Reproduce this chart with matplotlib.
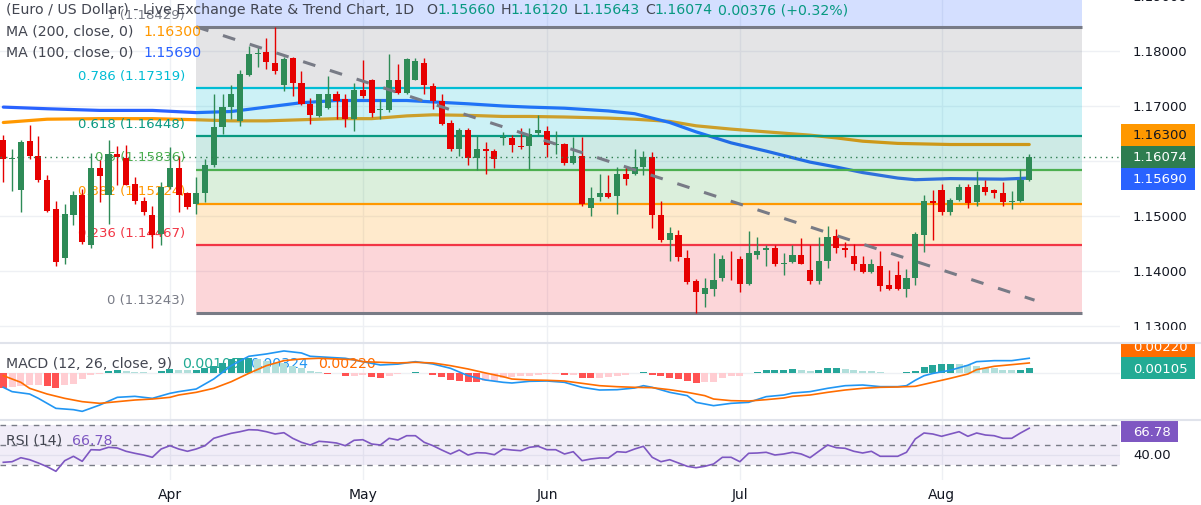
import matplotlib
matplotlib.use("Agg")
import matplotlib.pyplot as plt
from matplotlib.patches import Rectangle

W, H = 1201, 506
plt.rcParams['font.family'] = ['DejaVu Sans']
FS = 9.5
FS_HEAD = 10.2

# daily candles, oldest -> newest
opens = [1.1639, 1.1604, 1.1547, 1.1636, 1.1610, 1.1565, 1.1512, 1.1424, 1.1502, 1.1539,
         1.1448, 1.1588, 1.1538, 1.1612, 1.1605, 1.1559, 1.1527, 1.1501, 1.1468, 1.1553,
         1.1588, 1.1541, 1.1522, 1.1541, 1.1593, 1.1662, 1.1698, 1.1672, 1.1757, 1.1795,
         1.1799, 1.1779, 1.1739, 1.1787, 1.1741, 1.1704, 1.1681, 1.1696, 1.1721, 1.1712,
         1.1677, 1.1730, 1.1748, 1.1692, 1.1692, 1.1748, 1.1724, 1.1748, 1.1779, 1.1736,
         1.1709, 1.1669, 1.1621, 1.1656, 1.1605, 1.1622, 1.1618, 1.1642, 1.1642, 1.1628,
         1.1627, 1.1651, 1.1655, 1.1629, 1.1631, 1.1597, 1.1609, 1.1515, 1.1535, 1.1542,
         1.1536, 1.1577, 1.1576, 1.1589, 1.1607, 1.1501, 1.1456, 1.1466, 1.1424, 1.1382,
         1.1359, 1.1368, 1.1388, 1.1422, 1.1422, 1.1376, 1.1430, 1.1439, 1.1441, 1.1412,
         1.1416, 1.1430, 1.1401, 1.1381, 1.1418, 1.1464, 1.1442, 1.1427, 1.1413, 1.1398,
         1.1409, 1.1375, 1.1393, 1.1367, 1.1388, 1.1465, 1.1527, 1.1548, 1.1508, 1.1530,
         1.1553, 1.1525, 1.1553, 1.1547, 1.1541, 1.1525, 1.1527, 1.15660]
highs = [1.1647, 1.1621, 1.1638, 1.1666, 1.1645, 1.1575, 1.1528, 1.1522, 1.1545, 1.1550,
         1.1615, 1.1601, 1.1638, 1.1628, 1.1630, 1.1571, 1.1535, 1.1519, 1.1562, 1.1625,
         1.1610, 1.1544, 1.1571, 1.1604, 1.1721, 1.1722, 1.1739, 1.1765, 1.1810, 1.1807,
         1.1824, 1.18429, 1.1789, 1.1789, 1.1763, 1.1715, 1.1722, 1.1755, 1.1727, 1.1721,
         1.1741, 1.1784, 1.1750, 1.1713, 1.1795, 1.1777, 1.1787, 1.1787, 1.1787, 1.1741,
         1.1721, 1.1674, 1.1660, 1.1660, 1.1645, 1.1635, 1.1622, 1.1652, 1.1647, 1.1660,
         1.1660, 1.1683, 1.1664, 1.1655, 1.1633, 1.1644, 1.1644, 1.1553, 1.1577, 1.1574,
         1.1589, 1.1589, 1.1622, 1.1619, 1.1616, 1.1528, 1.1480, 1.1474, 1.1439, 1.1385,
         1.1387, 1.1433, 1.1430, 1.1436, 1.1427, 1.1473, 1.1462, 1.1447, 1.1447, 1.1432,
         1.1447, 1.1460, 1.1447, 1.1462, 1.1482, 1.1477, 1.1452, 1.1450, 1.1427, 1.1421,
         1.1436, 1.1401, 1.1418, 1.1404, 1.1471, 1.1538, 1.1548, 1.1559, 1.1533, 1.1559,
         1.1559, 1.1581, 1.1565, 1.1550, 1.1562, 1.1545, 1.1585, 1.16120]
lows = [1.1561, 1.1545, 1.1507, 1.1604, 1.1562, 1.1508, 1.1410, 1.1413, 1.1483, 1.1450,
        1.1442, 1.1525, 1.1486, 1.1556, 1.1556, 1.1522, 1.1501, 1.1442, 1.1448, 1.1550,
        1.1508, 1.1513, 1.1504, 1.1525, 1.1589, 1.1650, 1.1677, 1.1664, 1.1755, 1.1771,
        1.1767, 1.1759, 1.1728, 1.1719, 1.1701, 1.1668, 1.1680, 1.1695, 1.1677, 1.1662,
        1.1654, 1.1715, 1.1680, 1.1677, 1.1690, 1.1721, 1.1722, 1.1747, 1.1721, 1.1695,
        1.1666, 1.1618, 1.1609, 1.1592, 1.1583, 1.1576, 1.1588, 1.1630, 1.1616, 1.1621,
        1.1585, 1.1647, 1.1607, 1.1613, 1.1593, 1.1594, 1.1518, 1.1500, 1.1528, 1.1532,
        1.1504, 1.1557, 1.1575, 1.1575, 1.1478, 1.1452, 1.1418, 1.1419, 1.1376, 1.13243,
        1.1334, 1.1355, 1.1382, 1.1383, 1.1362, 1.1374, 1.1421, 1.1409, 1.1409, 1.1392,
        1.1415, 1.1412, 1.1377, 1.1377, 1.1405, 1.1432, 1.1425, 1.1401, 1.1397, 1.1397,
        1.1363, 1.1365, 1.1365, 1.1353, 1.1374, 1.1435, 1.1456, 1.1501, 1.1502, 1.1527,
        1.1515, 1.1518, 1.1539, 1.1532, 1.1519, 1.1512, 1.1525, 1.15643]
closes = [1.1603, 1.1606, 1.1635, 1.1610, 1.1565, 1.1510, 1.1416, 1.1504, 1.1539, 1.1452,
          1.1588, 1.1572, 1.1612, 1.1607, 1.1557, 1.1527, 1.1508, 1.1465, 1.1553, 1.1588,
          1.1538, 1.1516, 1.1541, 1.1593, 1.1662, 1.1698, 1.1722, 1.1759, 1.1795, 1.1797,
          1.1780, 1.1763, 1.1786, 1.1741, 1.1703, 1.1683, 1.1721, 1.1721, 1.1710, 1.1677,
          1.1730, 1.1719, 1.1688, 1.1694, 1.1747, 1.1724, 1.1785, 1.1782, 1.1738, 1.1709,
          1.1668, 1.1622, 1.1656, 1.1605, 1.1622, 1.1618, 1.1603, 1.1644, 1.1630, 1.1625,
          1.1650, 1.1657, 1.1630, 1.1631, 1.1596, 1.1609, 1.1521, 1.1533, 1.1542, 1.1535,
          1.1577, 1.1567, 1.1589, 1.1608, 1.1501, 1.1457, 1.1470, 1.1425, 1.1380, 1.1361,
          1.1369, 1.1383, 1.1421, 1.1421, 1.1376, 1.1432, 1.1436, 1.1442, 1.1412, 1.1415,
          1.1430, 1.1413, 1.1381, 1.1419, 1.1462, 1.1441, 1.1439, 1.1413, 1.1398, 1.1412,
          1.1373, 1.1368, 1.1367, 1.1387, 1.1468, 1.1527, 1.1524, 1.1507, 1.1530, 1.1553,
          1.1524, 1.1557, 1.1544, 1.1541, 1.1525, 1.1528, 1.1566, 1.16074]

# moving averages read at selected bars
ma200_idx = [0, 5, 11, 17, 22, 26, 30, 34, 38, 42, 46, 49, 53, 57, 60, 64, 69,
             72, 76, 79, 83, 87, 92, 95, 98, 102, 108, 117]
ma200_val = [1.1670, 1.1676, 1.1677, 1.1677, 1.1675, 1.1673, 1.1673, 1.1675, 1.1677,
             1.1677, 1.1682, 1.1684, 1.1683, 1.1681, 1.1681, 1.1680, 1.1678,
             1.1676, 1.1672, 1.1664, 1.1658, 1.1653, 1.1647, 1.1642, 1.1636, 1.1632,
             1.1630, 1.1630]
ma100_idx = [0, 5, 11, 17, 22, 26, 30, 34, 38, 46, 53, 57, 60, 64, 69, 72, 76, 79,
             83, 87, 92, 95, 98, 102, 104, 108, 114, 117]
ma100_val = [1.1698, 1.1695, 1.1692, 1.1692, 1.1688, 1.1690, 1.1698, 1.1706, 1.1710,
             1.1710, 1.1704, 1.1700, 1.1698, 1.1696, 1.1691, 1.1686, 1.1670, 1.1653,
             1.1633, 1.1618, 1.1598, 1.1589, 1.1579, 1.1569, 1.1566, 1.1568, 1.1567,
             1.1569]

# MACD (12, 26, 9)
macd_idx = [0, 1, 3, 4, 6, 8, 9, 11, 13, 15, 17, 19, 20, 22, 24, 26, 28, 30, 32, 34,
            35, 37, 39, 41, 43, 45, 47, 49, 51, 53, 55, 57, 58, 60, 62, 64, 66, 68,
            70, 72, 73, 74, 76, 78, 79, 81, 83, 85, 87, 89, 90, 92, 94, 96, 98, 100,
            102, 103, 104, 105, 106, 108, 110, 111, 113, 115, 117]
macd_val = [-0.00315, -0.00410, -0.00462, -0.00557, -0.00777, -0.00806, -0.00843,
            -0.00704, -0.00535, -0.00513, -0.00557, -0.00447, -0.00410, -0.00352,
            -0.00132, 0.00161, 0.00367, 0.00418, 0.00484, 0.00440, 0.00367, 0.00345,
            0.00323, 0.00249, 0.00176, 0.00195, 0.00249, 0.00198, 0.00103, -0.00059,
            -0.00154, -0.00205, -0.00220, -0.00183, -0.00176, -0.00205, -0.00315,
            -0.00374, -0.00367, -0.00330, -0.00279, -0.00315, -0.00425, -0.00498,
            -0.00645, -0.00718, -0.00667, -0.00645, -0.00520, -0.00484, -0.00440,
            -0.00410, -0.00337, -0.00279, -0.00264, -0.00300, -0.00300, -0.00279,
            -0.00160, -0.00060, -0.00010, 0.00060, 0.00170, 0.00249, 0.00271, 0.00271,
            0.00324]
signal_idx = [0, 2, 3, 5, 7, 9, 11, 13, 15, 17, 19, 20, 22, 24, 26, 28, 30, 32, 34,
              36, 38, 40, 41, 45, 47, 49, 51, 53, 55, 57, 58, 60, 62, 64, 66, 68, 70,
              72, 74, 76, 78, 80, 81, 83, 85, 87, 89, 90, 92, 94, 96, 98, 100, 102,
              104, 106, 108, 110, 111, 113, 115, 117]
signal_val = [-0.00059, -0.00205, -0.00337, -0.00462, -0.00557, -0.00630, -0.00667,
              -0.00630, -0.00594, -0.00572, -0.00535, -0.00484, -0.00425, -0.00337,
              -0.00191, -0.00007, 0.00161, 0.00271, 0.00308, 0.00323, 0.00308, 0.00293,
              0.00249, 0.00220, 0.00235, 0.00220, 0.00161, 0.00088, 0.00000, -0.00081,
              -0.00132, -0.00154, -0.00161, -0.00176, -0.00227, -0.00279, -0.00301,
              -0.00315, -0.00323, -0.00367, -0.00425, -0.00498, -0.00572, -0.00608,
              -0.00616, -0.00586, -0.00550, -0.00513, -0.00484, -0.00425, -0.00374,
              -0.00337, -0.00315, -0.00308, -0.00293, -0.00205, -0.00117, -0.00022,
              0.00073, 0.00147, 0.00183, 0.00220]
hist_val = [-0.0032, -0.0031, -0.0028, -0.0027, -0.0026, -0.0028, -0.0034, -0.0026, -0.0024, -0.0013,
            -0.0005, -0.0002, 0.0004, 0.0007, 0.0004, 0.0003, 0.0002, 0.0001, 0.0004, 0.0008,
            0.0007, 0.0006, 0.0007, 0.0012, 0.0016, 0.0023, 0.0030, 0.0032, 0.0034, 0.0030,
            0.0026, 0.0022, 0.0021, 0.0015, 0.0011, 0.0005, 0.0002, -0.0002, -0.0001, -0.0007,
            -0.0006, -0.0005, -0.0009, -0.0010, -0.0007, -0.0002, 0.0001, 0.0002, 0.0001, -0.0004,
            -0.0008, -0.0015, -0.0017, -0.0019, -0.0020, -0.0018, -0.0017, -0.0012, -0.0008, -0.0007,
            -0.0006, -0.0004, -0.0003, -0.0002, -0.0005, -0.0004, -0.0010, -0.0012, -0.0011, -0.0009,
            -0.0007, -0.0005, -0.0001, 0.0003, -0.0004, -0.0007, -0.0010, -0.0013, -0.0018, -0.0021,
            -0.0020, -0.0019, -0.0012, -0.0007, -0.0006, -0.0001, 0.0003, 0.0006, 0.00065, 0.0007,
            0.0008, 0.00075, 0.0005, 0.0007, 0.0011, 0.00115, 0.0009, 0.0007, 0.0005, 0.0004,
            0.0002, 0.0001, 0.00005, 0.0002, 0.0005, 0.0014, 0.0018, 0.0019, 0.0020, 0.00195,
            0.0018, 0.0016, 0.0012, 0.0010, 0.0007, 0.0006, 0.0007, 0.00105]

# RSI (14)
rsi_val = [32.7, 33.3, 37.3, 35.3, 32.0, 28.3, 23.7, 34.3, 38.7, 33.7,
           45.3, 45.0, 47.7, 47.0, 43.7, 41.7, 40.0, 37.7, 46.0, 49.3,
           46.0, 43.7, 46.0, 49.3, 56.7, 59.3, 61.7, 63.3, 65.3, 65.0,
           63.3, 61.0, 62.3, 56.7, 52.7, 50.0, 53.7, 53.0, 52.0, 49.3,
           54.7, 55.3, 51.0, 50.0, 56.7, 55.0, 59.3, 59.3, 52.7, 49.3,
           45.0, 41.0, 45.0, 40.0, 42.3, 42.0, 40.3, 46.0, 45.0, 44.3,
           47.7, 48.7, 45.3, 45.3, 41.0, 43.3, 34.3, 36.0, 37.0, 37.0,
           43.3, 42.7, 46.0, 48.7, 37.7, 33.3, 35.3, 32.0, 28.7, 27.3,
           28.7, 31.0, 37.7, 37.7, 33.3, 41.7, 42.0, 42.7, 40.0, 41.0,
           42.7, 41.0, 37.3, 43.7, 50.0, 47.3, 46.7, 43.7, 42.0, 43.7,
           38.7, 38.7, 38.7, 42.7, 56.0, 62.0, 61.0, 58.7, 61.0, 63.3,
           58.7, 62.0, 60.0, 59.3, 56.7, 56.7, 62.0, 66.78]

# fibonacci retracement
fib_levels = ['1', '0.786', '0.618', '0.5', '0.382', '0.236', '0']
fib_prices = [1.18429, 1.17319, 1.16448, 1.15836, 1.15224, 1.14467, 1.13243]
fib_colors = ['#787b86', '#00bcd4', '#089981', '#4caf50', '#ff9800', '#f23645', '#787b86']
fib_start, fib_end = 22, 123

# downtrend line (bar, price)
trend_idx = [22, 117.6]
trend_px = [1.1844, 1.1347]

month_names = ['Apr', 'May', 'Jun', 'Jul', 'Aug']
month_idx = [19, 41, 62, 84, 107]
price_ticks = [1.13, 1.14, 1.15, 1.16, 1.17, 1.18, 1.19]

UP, DOWN = '#2e8b57', '#e60000'
TXT = '#131722'
GREY = '#434651'
GRID = '#eef0f4'

fig = plt.figure(figsize=(W / 100, H / 100), dpi=100)
fig.patch.set_facecolor('white')


def pane(top, bottom):
    a = fig.add_axes([0, 1 - bottom / H, 1120 / W, (bottom - top) / H])
    a.set_xlim(-0.376, 127.35)
    for s in a.spines.values():
        s.set_visible(False)
    a.set_xticks([])
    a.set_yticks([])
    for m in month_idx:
        a.axvline(m, color=GRID, lw=1, zorder=0)
    return a


ax = pane(0, 343)
ax.set_ylim(1.127091, 1.189455)
am = pane(344, 420)
am.set_ylim(-0.01011, 0.00659)
ar = pane(421, 481)
ar.set_ylim(15, 75)

n = len(closes)
xs = list(range(n))

# price pane
for p in price_ticks:
    ax.axhline(p, color=GRID, lw=1, zorder=0)
ax.plot(ma200_idx, ma200_val, color='#ff9800', lw=2.3, zorder=1, solid_capstyle='round')
ax.plot(ma100_idx, ma100_val, color='#2962ff', lw=2.3, zorder=1, solid_capstyle='round')

ax.fill_between([fib_start, fib_end], fib_prices[0], 1.20, color='#2962ff', alpha=0.2, lw=0, zorder=2)
for k in range(len(fib_prices) - 1):
    ax.fill_between([fib_start, fib_end], fib_prices[k + 1], fib_prices[k],
                    color=fib_colors[k], alpha=0.2, lw=0, zorder=2)
for k, (lv, fp) in enumerate(zip(fib_levels, fib_prices)):
    lw = 2.2 if lv in ('0', '1') else 1.6
    ax.hlines(fp, fib_start, fib_end, color=fib_colors[k], lw=lw, zorder=2.5)
    ax.annotate(f'{lv} ({fp:.5f})', (fib_start, fp), xytext=(-8, 9.5),
                textcoords='offset points', ha='right', va='center',
                color=fib_colors[k], fontsize=FS, zorder=2.2)

ax.axhline(closes[-1], color='#2e7d50', lw=1, ls=(0, (1, 3)), zorder=3.5)

for i in xs:
    o, h, l, c = opens[i], highs[i], lows[i], closes[i]
    col = UP if c >= o else DOWN
    ax.vlines(i, l, h, color=col, lw=1, zorder=3)
    ax.bar(i, max(abs(c - o), 0.00004), bottom=min(o, c), width=0.7,
           color=col, lw=0, zorder=3.2)

ax.plot(trend_idx, trend_px, color='#787b86', lw=2.2, dashes=(4.2, 5.0), zorder=4)

# MACD pane
am.axhline(0, color=GRID, lw=1, zorder=0)
hcols = []
for i, v in enumerate(hist_val):
    prev = hist_val[i - 1] if i > 0 else v + (0.0001 if v < 0 else -0.0001)
    if v >= 0:
        hcols.append('#26a69a' if v >= prev else '#b2dfdb')
    else:
        hcols.append('#ff5252' if v < prev else '#ffcdd2')
am.bar(xs, hist_val, width=0.8, color=hcols, lw=0, zorder=2)
am.plot(macd_idx, macd_val, color='#2196f3', lw=1.2, zorder=3)
am.plot(signal_idx, signal_val, color='#ff6d00', lw=1.2, zorder=3)

# RSI pane
ar.axhline(40, color=GRID, lw=1, zorder=0)
ar.axhspan(30, 70, color='#7e57c2', alpha=0.1, lw=0, zorder=0.5)
for lvl in (70, 50, 30):
    ar.axhline(lvl, color='#787b86', lw=1, ls=(0, (4, 4)), zorder=1)
ar.plot(xs, rsi_val, color='#7e57c2', lw=1.2, zorder=3)

fig.canvas.draw()
rend = fig.canvas.get_renderer()


def ypix(a, v):
    return H - a.transData.transform((0, v))[1]


def row(a, x, y, pieces, fs=FS_HEAD, z=6):
    for s, c in pieces:
        if s is None:
            x += c
            continue
        t = a.text(x / W, 1 - y / H, s, color=c, fontsize=fs, ha='left', va='center',
                   transform=fig.transFigure, zorder=z)
        x += t.get_window_extent(renderer=rend).width


def tag(yc, text, bg, fg, x1=1195, h=22):
    fig.patches.append(Rectangle((1121 / W, 1 - (yc + h / 2) / H), (x1 - 1121) / W, h / H,
                                 transform=fig.transFigure, facecolor=bg, edgecolor='none',
                                 zorder=5))
    fig.text(1133 / W, 1 - yc / H, text, color=fg, fontsize=FS, ha='left', va='center',
             zorder=6)


# header and legends
green = '#089981'
row(ax, 6, 10, [('(Euro / US Dollar) - Live Exchange Rate & Trend Chart, 1D', GREY),
                (None, 12), ('O', GREY), ('1.15660', green), (None, 5),
                ('H', GREY), ('1.16120', green), (None, 5),
                ('L', GREY), ('1.15643', green), (None, 5),
                ('C', GREY), ('1.16074', green), (None, 5),
                ('0.00376 (+0.32%)', green)])
row(ax, 6, 32, [('MA (200, close, 0)', GREY), (None, 10), ('1.16300', '#ff9800')])
row(ax, 6, 53, [('MA (100, close, 0)', GREY), (None, 10), ('1.15690', '#2962ff')])
row(am, 6, 364, [('MACD (12, 26, close, 9)', GREY), (None, 10), ('0.00105', '#22ab94'),
                 (None, 10), ('0.00324', '#2196f3'), (None, 10), ('0.00220', '#ff6d00')], z=1)
row(ar, 6, 441, [('RSI (14)', GREY), (None, 10), ('66.78', '#7e57c2')])

# price axis
for p in price_ticks:
    fig.text(1133 / W, 1 - ypix(ax, p) / H, f'{p:.5f}', color=TXT, fontsize=FS,
             ha='left', va='center')
y_last = ypix(ax, closes[-1])
tag(y_last, '1.16074', '#2e7d50', 'white')
tag(y_last + 22, '1.15690', '#2962ff', 'white')
tag(y_last - 22, '1.16300', '#ff9800', TXT)

y_hist = ypix(am, hist_val[-1])
tag(y_hist, '0.00105', '#22ab94', 'white')
tag(y_hist - 22, '0.00220', '#ff6d00', 'white')
fig.patches.append(Rectangle((1121 / W, 1 - 343 / H), 80 / W, 12 / H, transform=fig.transFigure,
                             facecolor='white', edgecolor='none', zorder=7))
tag(ypix(ar, rsi_val[-1]) + 3, '66.78', '#7e57c2', 'white', x1=1178)
fig.text(1133 / W, 1 - ypix(ar, 40) / H, '40.00', color=TXT, fontsize=FS, ha='left', va='center')

# pane separators
for yy in (343.5, 420.5):
    fig.add_artist(plt.Line2D([0, 1], [1 - yy / H] * 2, color='#e0e3eb', lw=1.5,
                              transform=fig.transFigure, zorder=8))

# time axis
for m, name in zip(month_idx, month_names):
    xp = ax.transData.transform((m, 0))[0]
    fig.text(xp / W, 1 - 495 / H, name, color=TXT, fontsize=10, ha='center', va='center')

fig.savefig('out.png', dpi=100, facecolor='white')
